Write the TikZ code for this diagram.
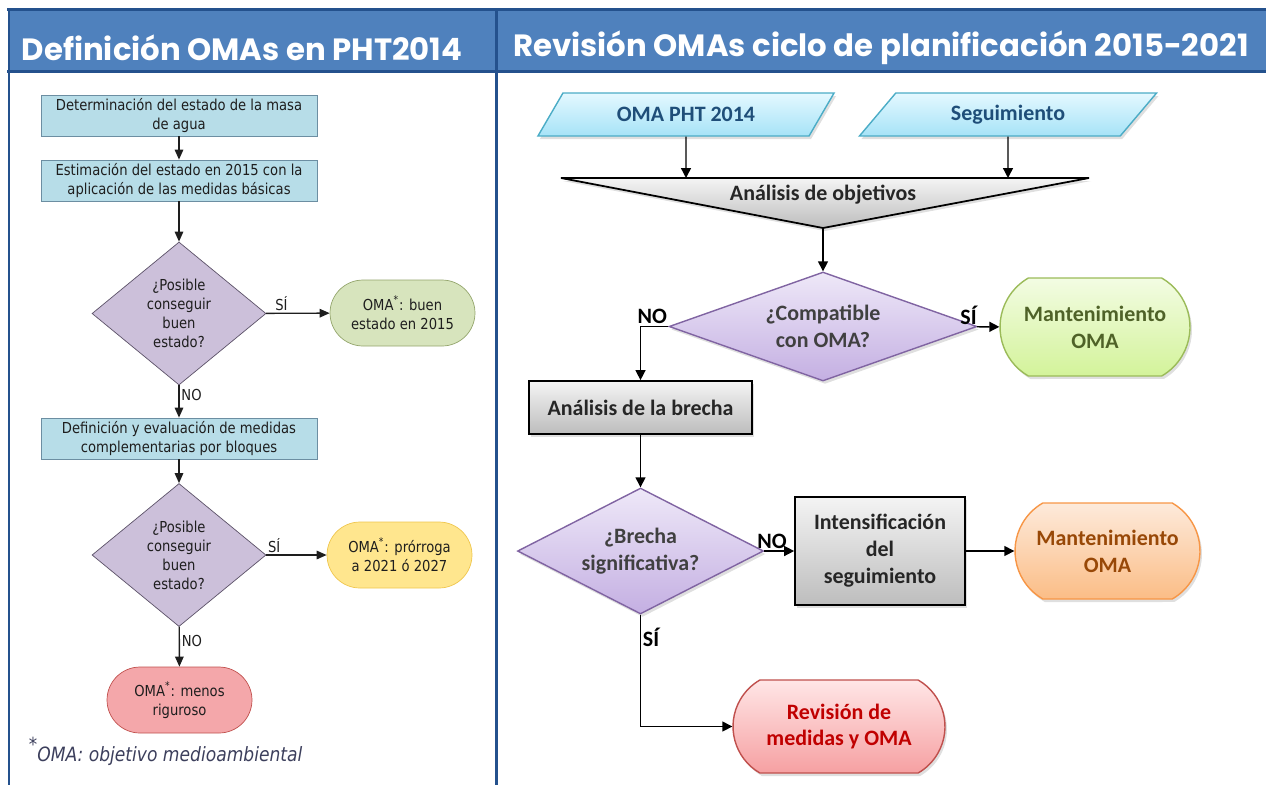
\documentclass[tikz,border=0pt]{standalone}
\usepackage{fontspec}
\setmainfont{Carlito}
\newfontfamily\tahoma[FakeStretch=0.87]{DejaVu Sans}
\newfontfamily\gothic{Poppins}
\usetikzlibrary{arrows.meta,shapes.geometric,shapes.misc,shadows}

\definecolor{headblue}{HTML}{4F81BD}
\definecolor{headline}{HTML}{24518D}
\definecolor{ltext}{HTML}{1E1E1E}
\definecolor{lboxfill}{HTML}{B7DDE8}
\definecolor{lboxline}{HTML}{6C8EA2}
\definecolor{ldiafill}{HTML}{CCC0DA}
\definecolor{ldialine}{HTML}{5C5268}
\definecolor{lgreenfill}{HTML}{D7E4BD}
\definecolor{lgreenline}{HTML}{94A56C}
\definecolor{lyellowfill}{HTML}{FFE68E}
\definecolor{lyellowline}{HTML}{EFC64E}
\definecolor{lredfill}{HTML}{F4A7AA}
\definecolor{lredline}{HTML}{C0504D}
\definecolor{footc}{HTML}{3C3F5C}
\definecolor{rtext}{HTML}{262626}
\definecolor{paratext}{HTML}{1F4E79}
\definecolor{parahi}{HTML}{E4F8FF}
\definecolor{paralo}{HTML}{A6E3F7}
\definecolor{paraline}{HTML}{4BACC6}
\definecolor{grayhi}{HTML}{F4F4F4}
\definecolor{graylo}{HTML}{BDBDBD}
\definecolor{rdiahi}{HTML}{EEE8F8}
\definecolor{rdialo}{HTML}{C4AFE2}
\definecolor{rdialine}{HTML}{8064A2}
\definecolor{rdiatext}{HTML}{404040}
\definecolor{rgreenhi}{HTML}{F3FCE3}
\definecolor{rgreenlo}{HTML}{D3F39A}
\definecolor{rgreenline}{HTML}{9BBB59}
\definecolor{rgreentext}{HTML}{4F6228}
\definecolor{rorangehi}{HTML}{FDEADB}
\definecolor{rorangelo}{HTML}{FBBD86}
\definecolor{rorangeline}{HTML}{F79646}
\definecolor{rorangetext}{HTML}{984807}
\definecolor{rredhi}{HTML}{FFE6E6}
\definecolor{rredlo}{HTML}{F6A0A2}
\definecolor{rredline}{HTML}{C0504D}
\definecolor{rredtext}{HTML}{C00000}

\begin{document}
\begin{tikzpicture}[x=0.02cm, y=-0.02cm,
  larr/.style={-{Triangle[length=0.2cm,width=0.17cm]}, line width=0.8pt, ltext},
  rarr/.style={-{Triangle[length=0.2cm,width=0.2cm]}, line width=0.8pt, black},
  lfont/.style={font=\tahoma\fontsize{8.6}{10.8}\selectfont, text=ltext},
  lbox/.style={rectangle, lfont, draw=lboxline, fill=lboxfill, minimum width=5.52cm, minimum height=0.82cm, inner sep=0pt, align=center},
  ldia/.style={diamond, aspect=1.2, lfont, draw=ldialine, fill=ldiafill, minimum width=3.48cm, minimum height=2.86cm, inner sep=0pt, align=center},
  lterm/.style={rounded rectangle, lfont, minimum width=2.9cm, minimum height=1.32cm, inner sep=0pt, align=center},
  llab/.style={lfont, inner sep=1pt},
  rfont/.style={font=\bfseries\fontsize{12.5}{15.3}\selectfont},
  rshad/.style={drop shadow={shadow xshift=0.04cm, shadow yshift=-0.06cm, opacity=0.25}},
  rpara/.style={trapezium, trapezium left angle=46, trapezium right angle=134, trapezium stretches=true, minimum width=5.96cm, minimum height=0.86cm, inner sep=0pt, rfont, text=paratext, draw=paraline, line width=0.8pt, top color=parahi, bottom color=paralo, rshad},
  rbox/.style={rectangle, rfont, text=rtext, draw=black, line width=1pt, top color=grayhi, bottom color=graylo, inner sep=0pt, align=center, rshad},
  rdia/.style={diamond, rfont, text=rdiatext, draw=rdialine, line width=0.8pt, top color=rdiahi, bottom color=rdialo, inner sep=0pt, align=center, rshad},
  rterm/.style={rounded rectangle, rounded rectangle arc length=120, rfont, line width=0.8pt, inner sep=0pt, align=center, rshad},
  rlab/.style={rfont, text=black, inner sep=1pt},
  headtxt/.style={font=\gothic\bfseries\fontsize{17.5}{20}\selectfont, text=white}]

\useasboundingbox (0,0) rectangle (1266,785);

\fill[headblue] (9,10) rectangle (1266,70);
\draw[headline, line width=0.06cm] (7,9) -- (1266,9);
\draw[headline, line width=0.06cm] (7,71) -- (1266,71);
\draw[headline, line width=0.06cm] (9,8) -- (9,785);
\draw[headline, line width=0.06cm] (496,8) -- (496,785);

\node[headtxt] (H1) at (242,48) {Definición OMAs en PHT2014};
\node[headtxt] (H2) at (881,48) {Revisión OMAs ciclo de planificación 2015-2021};

\node[lbox] (B1) at (179,115.5) {Determinación del estado de la masa\\de agua};
\node[lbox] (B2) at (179,180.5) {Estimación del estado en 2015 con la\\aplicación de las medidas básicas};
\node[ldia] (D1) at (179,313.5) {¿Posible\\conseguir\\buen\\estado?};
\node[lterm, draw=lgreenline, fill=lgreenfill] (G1) at (402.5,313) {OMA\textsuperscript{*}: buen\\estado en 2015};
\node[lbox] (B3) at (179,438.5) {Definición y evaluación de medidas\\complementarias por bloques};
\node[ldia] (D2) at (179,555) {¿Posible\\conseguir\\buen\\estado?};
\node[lterm, draw=lyellowline, fill=lyellowfill] (Y1) at (399.5,555) {OMA\textsuperscript{*}: prórroga\\a 2021 ó 2027};
\node[lterm, draw=lredline, fill=lredfill] (R1) at (179.5,700) {OMA\textsuperscript{*}: menos\\riguroso};

\node[font=\tahoma\fontsize{11}{12}\selectfont, text=footc, inner sep=0pt] (FS) at (33,744) {*};
\node[font=\tahoma\itshape\fontsize{11.2}{13}\selectfont, text=footc, anchor=west, inner sep=0pt] (FN) at (37,756) {OMA: objetivo medioambiental};

\draw[larr] (B1) -- (B2);
\draw[larr] (B2) -- (D1);
\draw[larr] (D1) -- (G1) node[llab, pos=0.24, anchor=south] {SÍ};
\draw[larr] (D1) -- (B3) node[llab, pos=0.3, anchor=west] {NO};
\draw[larr] (B3) -- (D2);
\draw[larr] (D2) -- (Y1) node[llab, pos=0.13, anchor=south] {SÍ};
\draw[larr] (D2) -- (R1) node[llab, pos=0.35, anchor=west] {NO};

\node[rpara] (P1) at (686,114.5) {\raisebox{-2pt}{OMA PHT 2014}};
\node[rpara] (P2) at (1008,114.5) {\raisebox{-2pt}{Seguimiento}};

\coordinate (AOin1) at (686,178);
\coordinate (AOin2) at (1008,178);
\coordinate (AOtip) at (823,228);
\path[draw=black, line width=1pt, top color=grayhi, bottom color=graylo, rshad] (561,178) -- (1089,178) -- (AOtip) -- cycle;
\node[rfont, text=rtext] (AO) at (823,195) {Análisis de objetivos};

\node[rdia, aspect=2.83, minimum width=6.16cm, minimum height=2.18cm] (D3) at (823,326.5) {¿Compatible\\con OMA?};
\node[rterm, draw=rgreenline, top color=rgreenhi, bottom color=rgreenlo, text=rgreentext, minimum width=3.8cm, minimum height=1.96cm] (G2) at (1095,327) {Mantenimiento\\OMA};
\node[rbox, minimum width=4.46cm, minimum height=1.06cm] (B4) at (640.5,407.5) {Análisis de la brecha};
\node[rdia, aspect=1.95, minimum width=4.92cm, minimum height=2.52cm] (D4) at (640.5,551) {¿Brecha\\significativa?};
\node[rbox, minimum width=3.4cm, minimum height=2.16cm] (B5) at (880,551) {Intensificación\\del\\seguimiento};
\node[rterm, draw=rorangeline, top color=rorangehi, bottom color=rorangelo, text=rorangetext, minimum width=3.7cm, minimum height=1.92cm] (O2) at (1107.5,551) {Mantenimiento\\OMA};
\node[rterm, draw=rredline, top color=rredhi, bottom color=rredlo, text=rredtext, minimum width=4.24cm, minimum height=1.86cm] (R2) at (839,726.5) {Revisión de\\medidas y OMA};

\draw[rarr] (P1) -- (AOin1);
\draw[rarr] (P2) -- (AOin2);
\draw[rarr] (AOtip) -- (D3);
\draw[rarr] (D3) -- (G2) node[rlab, pos=0.1, anchor=south east] {SÍ};
\draw[rarr] (D3.west) -| (B4.north) node[rlab, pos=0.29, anchor=south] {NO};
\draw[rarr] (B4) -- (D4);
\draw[rarr] (D4) -- (B5) node[rlab, pos=0.26, anchor=south] {NO};
\draw[rarr] (B5) -- (O2);
\draw[rarr] (D4.south) |- (R2.west) node[rlab, pos=0.1, anchor=west] {SÍ};

\end{tikzpicture}
\end{document}
